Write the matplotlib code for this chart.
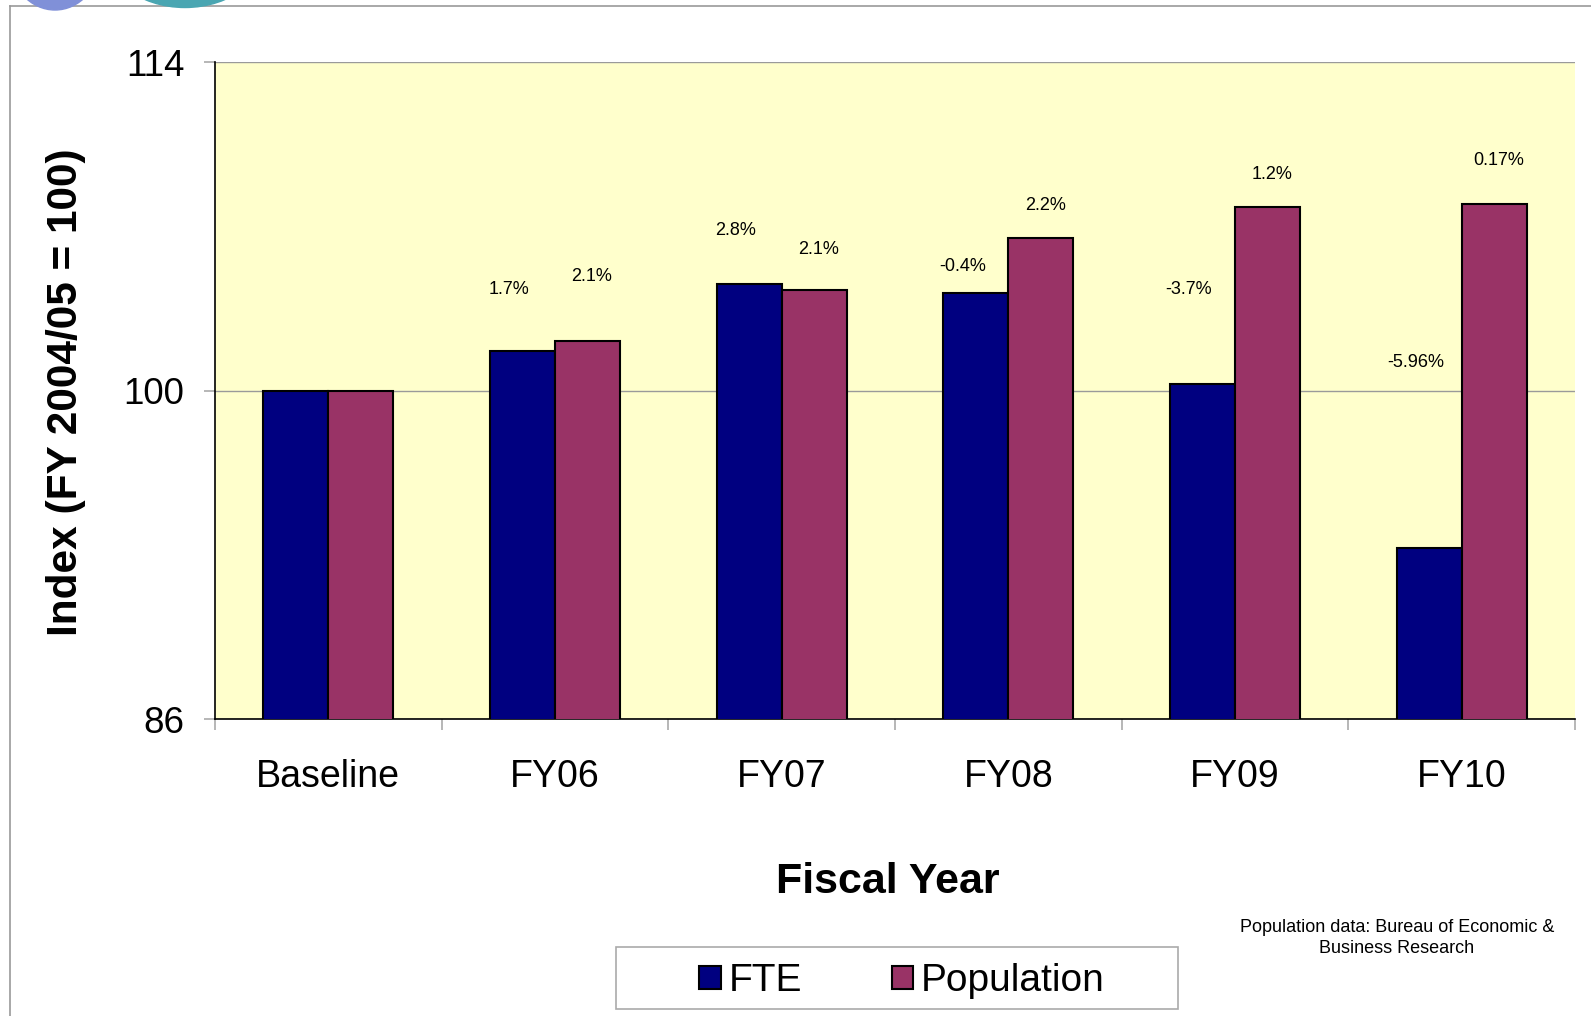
import numpy as np
import matplotlib.pyplot as plt
from matplotlib.patches import Ellipse, Rectangle
from matplotlib.lines import Line2D

plt.rcParams['font.family'] = ['Liberation Sans', 'DejaVu Sans']

# Datos
categorias = ['Baseline', 'FY06', 'FY07', 'FY08', 'FY09', 'FY10']
fte = [100.0, 101.7, 104.55, 104.15, 100.28, 93.3]
poblacion = [100.0, 102.12, 104.28, 106.52, 107.8, 107.95]
etiq_fte = ['', '1.7%', '2.8%', '-0.4%', '-3.7%', '-5.96%']
etiq_pob = ['', '2.1%', '2.1%', '2.2%', '1.2%', '0.17%']
# altura (en unidades del eje) donde aparece cada etiqueta
alto_etiq_fte = [0, 104.3, 106.8, 105.3, 104.3, 101.2]
alto_etiq_pob = [0, 104.85, 106.0, 107.9, 109.2, 109.8]

fig = plt.figure(figsize=(15.91, 10.16), dpi=100)
ax = fig.add_axes([215 / 1591, 1 - 719 / 1016, 1360 / 1591, 657 / 1016])

x = np.arange(len(categorias))
w = 0.287
ax.bar(x - w / 2, fte, w, color='#000080', edgecolor='black',
       linewidth=1.5, zorder=3, label='FTE')
ax.bar(x + w / 2, poblacion, w, color='#993366', edgecolor='black',
       linewidth=1.5, zorder=3, label='Population')

for i in range(len(categorias)):
    if etiq_fte[i]:
        ax.text(x[i] - w / 2 - 0.06, alto_etiq_fte[i], etiq_fte[i], ha='center',
                va='center', fontsize=13)
    if etiq_pob[i]:
        ax.text(x[i] + w / 2 + 0.02, alto_etiq_pob[i], etiq_pob[i], ha='center',
                va='center', fontsize=13)

ax.set_facecolor('#FFFFCC')
ax.set_xlim(-0.5, len(categorias) - 0.5)
ax.set_ylim(86, 114)
ax.set_yticks([86, 100, 114])
ax.set_yticklabels(['86', '100', '114'], fontsize=26.5)
ax.yaxis.grid(True, color='#9a9a9a', linewidth=1, zorder=0)
ax.set_xticks(x)
ax.set_xticklabels(categorias, fontsize=27)
ax.set_xticks(np.arange(-0.5, len(categorias), 1), minor=True)
ax.tick_params(axis='x', which='major', length=0, pad=29)
ax.tick_params(axis='x', which='minor', length=8, color='#aaaaaa', width=1.2)
ax.tick_params(axis='y', length=8, color='#aaaaaa', width=1.2, pad=14)
for lado in ['top', 'right']:
    ax.spines[lado].set_visible(False)
ax.spines['left'].set_color('black')
ax.spines['bottom'].set_color('black')
ax.spines['left'].set_linewidth(1.2)
ax.spines['bottom'].set_linewidth(1.2)

fig.text(66 / 1591, 1 - 392 / 1016, 'Index (FY 2004/05 = 100)', rotation=90,
         ha='center', va='center', fontsize=30.5, fontweight='bold')
fig.text(888 / 1591, 1 - 882 / 1016, 'Fiscal Year', ha='center', va='center',
         fontsize=31, fontweight='bold')
fig.text(1397 / 1591, 1 - 938 / 1016,
         'Population data: Bureau of Economic &\nBusiness Research',
         ha='center', va='center', fontsize=13, linespacing=1.3)

# Leyenda con marco dibujado aparte
fig.add_artist(Rectangle((616 / 1591, 1 - 1009 / 1016), 562 / 1591, 62 / 1016,
                         facecolor='white', edgecolor='#aaaaaa', linewidth=1.2))
leg = fig.legend(loc='center', bbox_to_anchor=(902 / 1591, 1 - 981 / 1016),
                 ncol=2, fontsize=28, frameon=False,
                 handlelength=0.55, handleheight=0.55, handletextpad=0.2,
                 columnspacing=2.3, borderpad=0.2)

# Marco y logo de la diapositiva
fig.add_artist(Line2D([9.5 / 1591, 9.5 / 1591], [0, 1 - 6 / 1016],
                      color='#999999', linewidth=1.2))
fig.add_artist(Line2D([9.5 / 1591, 1], [1 - 6 / 1016, 1 - 6 / 1016],
                      color='#999999', linewidth=1.2))
fig.add_artist(Ellipse((55 / 1591, 1 + 40 / 1016), 90 / 1591, 100 / 1016,
                       color='#8090d8', zorder=5))
fig.add_artist(Ellipse((185 / 1591, 1 + 60 / 1016), 170 / 1591, 135 / 1016,
                       color='#4aa6b2', zorder=5))

fig.savefig('out.png', dpi=100)
